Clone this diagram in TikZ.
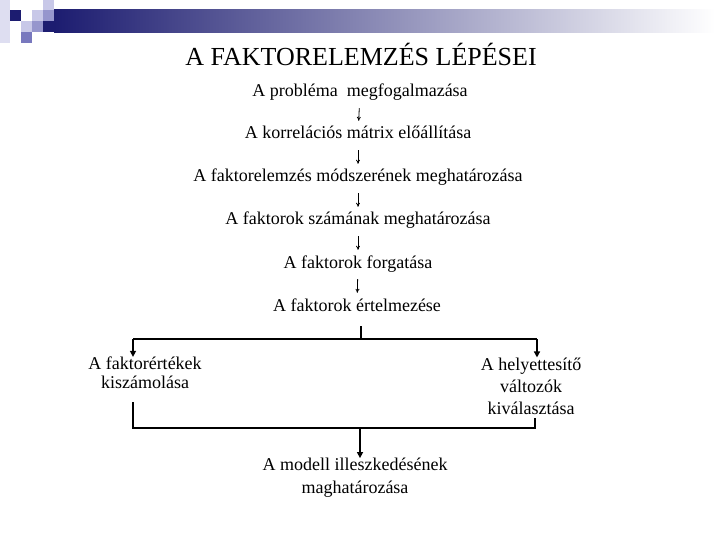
\documentclass[tikz,border=0pt]{standalone}
\usepackage{fontspec}
\setmainfont{Liberation Serif}
\usetikzlibrary{arrows.meta}
\definecolor{navy}{RGB}{28,28,112}
\definecolor{barmid}{RGB}{178,178,202}
\definecolor{lav}{RGB}{200,200,232}
\definecolor{lavm}{RGB}{150,150,205}
\definecolor{lavd}{RGB}{120,120,190}
\tikzset{
  line/.style={font=\fontsize{18}{20}\selectfont, inner sep=0pt, text height=12pt, text depth=4pt},
  multi/.style={font=\fontsize{18}{20}\selectfont, inner sep=0pt, align=center},
  thinarr/.style={line width=0.8pt, -{To[length=4pt,width=4pt]}, shorten <=7pt, shorten >=6pt},
  conn/.style={line width=1.4pt},
  connarr/.style={line width=1.4pt, -{Triangle[length=6pt,width=6pt]}},
}
\begin{document}
\begin{tikzpicture}[x=1pt,y=-1pt]
\useasboundingbox (0,0) rectangle (720,540);
% decoration
\fill[lav!60] (0,0) rectangle (10,43);
\fill[lav] (43,0) rectangle (54,10);
\fill[navy] (10,10) rectangle (21,21);
\fill[lav] (32,10) rectangle (43,21);
\fill[lavm] (43,10) rectangle (54,21);
\fill[lav] (21,21) rectangle (32,32);
\fill[lavm] (32,21) rectangle (43,32);
\fill[navy] (43,21) rectangle (54,32);
\fill[lavd] (21,32) rectangle (32,43);
\shade[left color=navy, middle color=barmid, right color=white] (54,10) rectangle (715,33);
% title
\node[font=\fontsize{26}{28}\selectfont, inner sep=0pt] (title) at (361,54) {A FAKTORELEMZÉS LÉPÉSEI};
% steps
\node[line] (s1) at (360,93) {A probléma\ \ megfogalmazása};
\node[line] (s2) at (358,135) {A korrelációs mátrix előállítása};
\node[line] (s3) at (358,178) {A faktorelemzés módszerének meghatározása};
\node[line] (s4) at (358,221) {A faktorok számának meghatározása};
\node[line] (s5) at (358,264) {A faktorok forgatása};
\node[line] (s6) at (357,307) {A faktorok értelmezése};
\draw[thinarr] (s1) -- (s2);
\draw[thinarr] (s2) -- (s3);
\draw[thinarr] (s3) -- (s4);
\draw[thinarr] (s4) -- (s5);
\draw[thinarr] (s5) -- (s6);
% branches
\node[multi, font=\fontsize{18}{19}\selectfont] (fe) at (145,373) {A faktorértékek\\kiszámolása};
\node[multi, font=\fontsize{18}{22}\selectfont] (hv) at (531,386) {A helyettesítő\\változók\\kiválasztása};
\node[multi, font=\fontsize{18}{23}\selectfont] (mod) at (355,478) {A modell illeszkedésének\\maghatározása};
\coordinate (split) at (361,339);
\coordinate (la) at (133,339);
\coordinate (ra) at (537,339);
\coordinate (lt) at (133,402);
\coordinate (rt) at (535,418);
\coordinate (lb) at (133,428);
\coordinate (rb) at (535,428);
\coordinate (join) at (360,428);
\draw[conn, shorten <=11pt] (s6.south -| split) -- (split);
\draw[conn] (la) -- (ra);
\draw[connarr] (la) -- (la |- fe.north);
\draw[connarr] (ra) -- (ra |- hv.north);
\draw[conn] (lt) -- (lb) -- (rb) -- (rt);
\draw[connarr] (join) -- (join |- mod.north);
\end{tikzpicture}
\end{document}
